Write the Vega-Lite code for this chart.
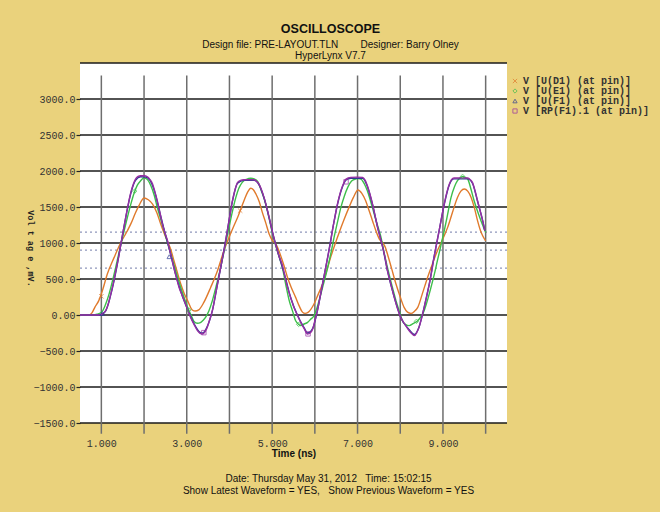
{
  "$schema": "https://vega.github.io/schema/vega-lite/v6.json",
  "width": 427,
  "height": 360,
  "autosize": {"type": "none"},
  "padding": {"left": 80, "top": 63, "right": 153, "bottom": 89},
  "background": "#EAD27C",
  "title": {
    "text": "OSCILLOSCOPE",
    "subtitle": ["Design file: PRE-LAYOUT.TLN\u00a0\u00a0\u00a0\u00a0\u00a0\u00a0\u00a0\u00a0Designer: Barry Olney", "HyperLynx V7.7"],
    "anchor": "middle",
    "frame": "group",
    "dx": 37,
    "offset": 1,
    "font": "Liberation Sans",
    "fontSize": 12.5,
    "fontWeight": "bold",
    "color": "#111111",
    "subtitleFont": "Liberation Sans",
    "subtitleFontSize": 10,
    "subtitleColor": "#111111",
    "subtitleLineHeight": 11,
    "subtitlePadding": 5
  },
  "config": {
    "view": {"fill": "white", "stroke": null},
    "axis": {"labelOverlap": false, "labelSeparation": 0, "labelBound": false},
    "legend": {
      "orient": "none",
      "legendX": 430,
      "legendY": 13,
      "padding": 0,
      "rowPadding": 0,
      "labelFont": "Liberation Mono",
      "labelFontSize": 10,
      "labelFontWeight": "bold",
      "labelColor": "#333333",
      "labelLimit": 300,
      "labelOffset": 3,
      "symbolSize": 18,
      "symbolStrokeWidth": 1
    }
  },
  "datasets": {
    "waves": [
      {"s":"D1","t":0.5,"v":0},{"s":"D1","t":0.7,"v":0},{"s":"D1","t":0.78,"v":30},{"s":"D1","t":0.85,"v":110},{"s":"D1","t":0.94,"v":200},{"s":"D1","t":1.02,"v":330},{"s":"D1","t":1.14,"v":570},{"s":"D1","t":1.3,"v":800},{"s":"D1","t":1.45,"v":1000},{"s":"D1","t":1.6,"v":1160},{"s":"D1","t":1.69,"v":1265},{"s":"D1","t":1.8,"v":1420},{"s":"D1","t":1.88,"v":1518},{"s":"D1","t":2.0,"v":1625},{"s":"D1","t":2.1,"v":1600},{"s":"D1","t":2.2,"v":1540},{"s":"D1","t":2.3,"v":1420},{"s":"D1","t":2.39,"v":1264},{"s":"D1","t":2.48,"v":1120},{"s":"D1","t":2.56,"v":1008},{"s":"D1","t":2.62,"v":920},{"s":"D1","t":2.7,"v":754},{"s":"D1","t":2.78,"v":590},{"s":"D1","t":2.86,"v":430},{"s":"D1","t":2.94,"v":300},{"s":"D1","t":3.02,"v":200},{"s":"D1","t":3.13,"v":70},{"s":"D1","t":3.2,"v":55},{"s":"D1","t":3.28,"v":70},{"s":"D1","t":3.4,"v":175},{"s":"D1","t":3.56,"v":383},{"s":"D1","t":3.72,"v":615},{"s":"D1","t":3.87,"v":893},{"s":"D1","t":3.99,"v":1078},{"s":"D1","t":4.09,"v":1220},{"s":"D1","t":4.19,"v":1355},{"s":"D1","t":4.34,"v":1587},{"s":"D1","t":4.42,"v":1700},{"s":"D1","t":4.5,"v":1760},{"s":"D1","t":4.56,"v":1740},{"s":"D1","t":4.62,"v":1680},{"s":"D1","t":4.7,"v":1570},{"s":"D1","t":4.77,"v":1425},{"s":"D1","t":4.85,"v":1280},{"s":"D1","t":4.93,"v":1125},{"s":"D1","t":5.0,"v":1040},{"s":"D1","t":5.08,"v":990},{"s":"D1","t":5.14,"v":920},{"s":"D1","t":5.2,"v":823},{"s":"D1","t":5.28,"v":680},{"s":"D1","t":5.36,"v":522},{"s":"D1","t":5.45,"v":380},{"s":"D1","t":5.55,"v":245},{"s":"D1","t":5.63,"v":130},{"s":"D1","t":5.71,"v":40},{"s":"D1","t":5.77,"v":22},{"s":"D1","t":5.84,"v":36},{"s":"D1","t":5.98,"v":153},{"s":"D1","t":6.08,"v":290},{"s":"D1","t":6.18,"v":430},{"s":"D1","t":6.28,"v":620},{"s":"D1","t":6.37,"v":800},{"s":"D1","t":6.47,"v":980},{"s":"D1","t":6.57,"v":1147},{"s":"D1","t":6.68,"v":1320},{"s":"D1","t":6.8,"v":1495},{"s":"D1","t":6.9,"v":1630},{"s":"D1","t":7.01,"v":1736},{"s":"D1","t":7.1,"v":1690},{"s":"D1","t":7.19,"v":1587},{"s":"D1","t":7.27,"v":1450},{"s":"D1","t":7.35,"v":1310},{"s":"D1","t":7.43,"v":1170},{"s":"D1","t":7.51,"v":1055},{"s":"D1","t":7.58,"v":1010},{"s":"D1","t":7.65,"v":940},{"s":"D1","t":7.7,"v":847},{"s":"D1","t":7.8,"v":640},{"s":"D1","t":7.9,"v":430},{"s":"D1","t":8.0,"v":250},{"s":"D1","t":8.09,"v":106},{"s":"D1","t":8.17,"v":40},{"s":"D1","t":8.25,"v":22},{"s":"D1","t":8.33,"v":50},{"s":"D1","t":8.41,"v":106},{"s":"D1","t":8.52,"v":300},{"s":"D1","t":8.64,"v":522},{"s":"D1","t":8.76,"v":720},{"s":"D1","t":8.87,"v":893},{"s":"D1","t":9.0,"v":1060},{"s":"D1","t":9.11,"v":1217},{"s":"D1","t":9.22,"v":1420},{"s":"D1","t":9.34,"v":1633},{"s":"D1","t":9.42,"v":1720},{"s":"D1","t":9.5,"v":1750},{"s":"D1","t":9.58,"v":1720},{"s":"D1","t":9.66,"v":1633},{"s":"D1","t":9.74,"v":1480},{"s":"D1","t":9.81,"v":1310},{"s":"D1","t":9.88,"v":1170},{"s":"D1","t":9.93,"v":1101},{"s":"D1","t":10.0,"v":1030},
      {"s":"E1","t":0.5,"v":0},{"s":"E1","t":0.8,"v":0},{"s":"E1","t":0.9,"v":10},{"s":"E1","t":1.02,"v":50},{"s":"E1","t":1.1,"v":150},{"s":"E1","t":1.18,"v":290},{"s":"E1","t":1.3,"v":570},{"s":"E1","t":1.45,"v":960},{"s":"E1","t":1.53,"v":1160},{"s":"E1","t":1.61,"v":1355},{"s":"E1","t":1.7,"v":1560},{"s":"E1","t":1.76,"v":1680},{"s":"E1","t":1.84,"v":1800},{"s":"E1","t":1.92,"v":1865},{"s":"E1","t":2.0,"v":1905},{"s":"E1","t":2.08,"v":1880},{"s":"E1","t":2.16,"v":1796},{"s":"E1","t":2.24,"v":1660},{"s":"E1","t":2.31,"v":1495},{"s":"E1","t":2.39,"v":1330},{"s":"E1","t":2.47,"v":1170},{"s":"E1","t":2.58,"v":940},{"s":"E1","t":2.66,"v":780},{"s":"E1","t":2.74,"v":615},{"s":"E1","t":2.86,"v":383},{"s":"E1","t":2.94,"v":240},{"s":"E1","t":3.02,"v":106},{"s":"E1","t":3.1,"v":0},{"s":"E1","t":3.17,"v":-89},{"s":"E1","t":3.25,"v":-115},{"s":"E1","t":3.32,"v":-105},{"s":"E1","t":3.38,"v":-75},{"s":"E1","t":3.44,"v":-33},{"s":"E1","t":3.52,"v":60},{"s":"E1","t":3.6,"v":200},{"s":"E1","t":3.68,"v":380},{"s":"E1","t":3.76,"v":570},{"s":"E1","t":3.87,"v":870},{"s":"E1","t":3.99,"v":1217},{"s":"E1","t":4.07,"v":1440},{"s":"E1","t":4.15,"v":1633},{"s":"E1","t":4.22,"v":1760},{"s":"E1","t":4.3,"v":1842},{"s":"E1","t":4.4,"v":1885},{"s":"E1","t":4.5,"v":1900},{"s":"E1","t":4.58,"v":1890},{"s":"E1","t":4.66,"v":1856},{"s":"E1","t":4.75,"v":1720},{"s":"E1","t":4.85,"v":1542},{"s":"E1","t":4.93,"v":1340},{"s":"E1","t":5.01,"v":1125},{"s":"E1","t":5.12,"v":890},{"s":"E1","t":5.24,"v":660},{"s":"E1","t":5.32,"v":420},{"s":"E1","t":5.4,"v":200},{"s":"E1","t":5.48,"v":50},{"s":"E1","t":5.55,"v":-80},{"s":"E1","t":5.62,"v":-130},{"s":"E1","t":5.67,"v":-148},{"s":"E1","t":5.75,"v":-125},{"s":"E1","t":5.83,"v":-103},{"s":"E1","t":5.9,"v":-60},{"s":"E1","t":5.98,"v":-10},{"s":"E1","t":6.06,"v":120},{"s":"E1","t":6.14,"v":290},{"s":"E1","t":6.22,"v":470},{"s":"E1","t":6.3,"v":660},{"s":"E1","t":6.38,"v":870},{"s":"E1","t":6.45,"v":1078},{"s":"E1","t":6.53,"v":1290},{"s":"E1","t":6.61,"v":1495},{"s":"E1","t":6.69,"v":1650},{"s":"E1","t":6.77,"v":1772},{"s":"E1","t":6.86,"v":1860},{"s":"E1","t":6.96,"v":1890},{"s":"E1","t":7.02,"v":1895},{"s":"E1","t":7.08,"v":1888},{"s":"E1","t":7.16,"v":1820},{"s":"E1","t":7.23,"v":1726},{"s":"E1","t":7.31,"v":1570},{"s":"E1","t":7.39,"v":1403},{"s":"E1","t":7.47,"v":1240},{"s":"E1","t":7.55,"v":1078},{"s":"E1","t":7.62,"v":870},{"s":"E1","t":7.7,"v":660},{"s":"E1","t":7.8,"v":420},{"s":"E1","t":7.9,"v":200},{"s":"E1","t":7.98,"v":50},{"s":"E1","t":8.05,"v":-80},{"s":"E1","t":8.12,"v":-130},{"s":"E1","t":8.21,"v":-148},{"s":"E1","t":8.3,"v":-120},{"s":"E1","t":8.41,"v":-80},{"s":"E1","t":8.5,"v":-10},{"s":"E1","t":8.56,"v":60},{"s":"E1","t":8.64,"v":210},{"s":"E1","t":8.72,"v":383},{"s":"E1","t":8.8,"v":570},{"s":"E1","t":8.87,"v":754},{"s":"E1","t":8.95,"v":960},{"s":"E1","t":9.03,"v":1170},{"s":"E1","t":9.11,"v":1400},{"s":"E1","t":9.19,"v":1633},{"s":"E1","t":9.27,"v":1780},{"s":"E1","t":9.34,"v":1865},{"s":"E1","t":9.4,"v":1905},{"s":"E1","t":9.46,"v":1925},{"s":"E1","t":9.52,"v":1910},{"s":"E1","t":9.58,"v":1888},{"s":"E1","t":9.65,"v":1760},{"s":"E1","t":9.73,"v":1587},{"s":"E1","t":9.81,"v":1440},{"s":"E1","t":9.89,"v":1310},{"s":"E1","t":9.95,"v":1220},{"s":"E1","t":10.0,"v":1148},
      {"s":"F1","t":0.5,"v":0},{"s":"F1","t":0.97,"v":0},{"s":"F1","t":1.1,"v":55},{"s":"F1","t":1.22,"v":280},{"s":"F1","t":1.34,"v":600},{"s":"F1","t":1.45,"v":960},{"s":"F1","t":1.57,"v":1350},{"s":"F1","t":1.69,"v":1690},{"s":"F1","t":1.8,"v":1870},{"s":"F1","t":1.92,"v":1920},{"s":"F1","t":2.04,"v":1915},{"s":"F1","t":2.14,"v":1870},{"s":"F1","t":2.25,"v":1710},{"s":"F1","t":2.37,"v":1420},{"s":"F1","t":2.49,"v":1140},{"s":"F1","t":2.6,"v":900},{"s":"F1","t":2.74,"v":560},{"s":"F1","t":2.88,"v":290},{"s":"F1","t":3.01,"v":90},{"s":"F1","t":3.17,"v":-120},{"s":"F1","t":3.31,"v":-240},{"s":"F1","t":3.37,"v":-250},{"s":"F1","t":3.48,"v":-160},{"s":"F1","t":3.6,"v":60},{"s":"F1","t":3.72,"v":430},{"s":"F1","t":3.84,"v":800},{"s":"F1","t":3.95,"v":1170},{"s":"F1","t":4.07,"v":1580},{"s":"F1","t":4.19,"v":1830},{"s":"F1","t":4.34,"v":1870},{"s":"F1","t":4.58,"v":1870},{"s":"F1","t":4.69,"v":1810},{"s":"F1","t":4.81,"v":1625},{"s":"F1","t":4.93,"v":1350},{"s":"F1","t":5.01,"v":1147},{"s":"F1","t":5.16,"v":820},{"s":"F1","t":5.3,"v":540},{"s":"F1","t":5.44,"v":230},{"s":"F1","t":5.59,"v":0},{"s":"F1","t":5.75,"v":-180},{"s":"F1","t":5.83,"v":-250},{"s":"F1","t":5.95,"v":-185},{"s":"F1","t":6.06,"v":60},{"s":"F1","t":6.18,"v":430},{"s":"F1","t":6.3,"v":800},{"s":"F1","t":6.41,"v":1170},{"s":"F1","t":6.53,"v":1535},{"s":"F1","t":6.65,"v":1785},{"s":"F1","t":6.73,"v":1875},{"s":"F1","t":6.84,"v":1900},{"s":"F1","t":7.12,"v":1900},{"s":"F1","t":7.23,"v":1785},{"s":"F1","t":7.35,"v":1535},{"s":"F1","t":7.47,"v":1215},{"s":"F1","t":7.59,"v":940},{"s":"F1","t":7.7,"v":615},{"s":"F1","t":7.86,"v":245},{"s":"F1","t":8.01,"v":-30},{"s":"F1","t":8.21,"v":-205},{"s":"F1","t":8.33,"v":-270},{"s":"F1","t":8.44,"v":-165},{"s":"F1","t":8.56,"v":106},{"s":"F1","t":8.68,"v":430},{"s":"F1","t":8.79,"v":800},{"s":"F1","t":8.91,"v":1170},{"s":"F1","t":9.03,"v":1535},{"s":"F1","t":9.15,"v":1810},{"s":"F1","t":9.26,"v":1890},{"s":"F1","t":9.58,"v":1890},{"s":"F1","t":9.69,"v":1830},{"s":"F1","t":9.81,"v":1580},{"s":"F1","t":9.93,"v":1310},{"s":"F1","t":9.98,"v":1170},
      {"s":"RP","t":0.5,"v":0},{"s":"RP","t":0.95,"v":0},{"s":"RP","t":1.02,"v":15},{"s":"RP","t":1.1,"v":60},{"s":"RP","t":1.16,"v":150},{"s":"RP","t":1.22,"v":290},{"s":"RP","t":1.28,"v":440},{"s":"RP","t":1.34,"v":615},{"s":"RP","t":1.4,"v":790},{"s":"RP","t":1.45,"v":960},{"s":"RP","t":1.51,"v":1160},{"s":"RP","t":1.57,"v":1355},{"s":"RP","t":1.63,"v":1540},{"s":"RP","t":1.69,"v":1703},{"s":"RP","t":1.75,"v":1820},{"s":"RP","t":1.8,"v":1888},{"s":"RP","t":1.86,"v":1925},{"s":"RP","t":1.92,"v":1935},{"s":"RP","t":2.0,"v":1935},{"s":"RP","t":2.08,"v":1920},{"s":"RP","t":2.14,"v":1880},{"s":"RP","t":2.2,"v":1820},{"s":"RP","t":2.25,"v":1720},{"s":"RP","t":2.31,"v":1587},{"s":"RP","t":2.37,"v":1430},{"s":"RP","t":2.43,"v":1264},{"s":"RP","t":2.49,"v":1140},{"s":"RP","t":2.55,"v":1032},{"s":"RP","t":2.6,"v":900},{"s":"RP","t":2.66,"v":754},{"s":"RP","t":2.74,"v":560},{"s":"RP","t":2.82,"v":383},{"s":"RP","t":2.88,"v":290},{"s":"RP","t":2.94,"v":200},{"s":"RP","t":3.01,"v":90},{"s":"RP","t":3.09,"v":-33},{"s":"RP","t":3.17,"v":-130},{"s":"RP","t":3.25,"v":-218},{"s":"RP","t":3.31,"v":-255},{"s":"RP","t":3.37,"v":-264},{"s":"RP","t":3.43,"v":-230},{"s":"RP","t":3.48,"v":-172},{"s":"RP","t":3.54,"v":-60},{"s":"RP","t":3.6,"v":60},{"s":"RP","t":3.66,"v":240},{"s":"RP","t":3.72,"v":430},{"s":"RP","t":3.78,"v":615},{"s":"RP","t":3.84,"v":800},{"s":"RP","t":3.9,"v":985},{"s":"RP","t":3.95,"v":1170},{"s":"RP","t":4.01,"v":1380},{"s":"RP","t":4.07,"v":1587},{"s":"RP","t":4.13,"v":1740},{"s":"RP","t":4.19,"v":1842},{"s":"RP","t":4.26,"v":1870},{"s":"RP","t":4.34,"v":1878},{"s":"RP","t":4.45,"v":1880},{"s":"RP","t":4.58,"v":1878},{"s":"RP","t":4.64,"v":1855},{"s":"RP","t":4.69,"v":1820},{"s":"RP","t":4.75,"v":1740},{"s":"RP","t":4.81,"v":1633},{"s":"RP","t":4.87,"v":1500},{"s":"RP","t":4.93,"v":1355},{"s":"RP","t":5.01,"v":1147},{"s":"RP","t":5.08,"v":980},{"s":"RP","t":5.16,"v":820},{"s":"RP","t":5.24,"v":690},{"s":"RP","t":5.3,"v":540},{"s":"RP","t":5.36,"v":383},{"s":"RP","t":5.44,"v":230},{"s":"RP","t":5.51,"v":106},{"s":"RP","t":5.59,"v":0},{"s":"RP","t":5.67,"v":-103},{"s":"RP","t":5.75,"v":-190},{"s":"RP","t":5.83,"v":-264},{"s":"RP","t":5.89,"v":-250},{"s":"RP","t":5.95,"v":-194},{"s":"RP","t":6.0,"v":-80},{"s":"RP","t":6.06,"v":60},{"s":"RP","t":6.12,"v":240},{"s":"RP","t":6.18,"v":430},{"s":"RP","t":6.24,"v":615},{"s":"RP","t":6.3,"v":800},{"s":"RP","t":6.36,"v":985},{"s":"RP","t":6.41,"v":1170},{"s":"RP","t":6.47,"v":1360},{"s":"RP","t":6.53,"v":1542},{"s":"RP","t":6.59,"v":1690},{"s":"RP","t":6.65,"v":1796},{"s":"RP","t":6.73,"v":1888},{"s":"RP","t":6.84,"v":1911},{"s":"RP","t":6.98,"v":1915},{"s":"RP","t":7.12,"v":1911},{"s":"RP","t":7.18,"v":1870},{"s":"RP","t":7.23,"v":1796},{"s":"RP","t":7.29,"v":1680},{"s":"RP","t":7.35,"v":1542},{"s":"RP","t":7.41,"v":1380},{"s":"RP","t":7.47,"v":1217},{"s":"RP","t":7.53,"v":1080},{"s":"RP","t":7.59,"v":940},{"s":"RP","t":7.65,"v":780},{"s":"RP","t":7.7,"v":615},{"s":"RP","t":7.78,"v":430},{"s":"RP","t":7.86,"v":245},{"s":"RP","t":7.93,"v":100},{"s":"RP","t":8.01,"v":-33},{"s":"RP","t":8.11,"v":-130},{"s":"RP","t":8.21,"v":-218},{"s":"RP","t":8.28,"v":-265},{"s":"RP","t":8.33,"v":-287},{"s":"RP","t":8.39,"v":-240},{"s":"RP","t":8.44,"v":-172},{"s":"RP","t":8.5,"v":-40},{"s":"RP","t":8.56,"v":106},{"s":"RP","t":8.62,"v":270},{"s":"RP","t":8.68,"v":430},{"s":"RP","t":8.74,"v":615},{"s":"RP","t":8.79,"v":800},{"s":"RP","t":8.85,"v":985},{"s":"RP","t":8.91,"v":1170},{"s":"RP","t":8.97,"v":1360},{"s":"RP","t":9.03,"v":1542},{"s":"RP","t":9.09,"v":1700},{"s":"RP","t":9.15,"v":1820},{"s":"RP","t":9.2,"v":1880},{"s":"RP","t":9.26,"v":1903},{"s":"RP","t":9.42,"v":1905},{"s":"RP","t":9.58,"v":1903},{"s":"RP","t":9.64,"v":1880},{"s":"RP","t":9.69,"v":1842},{"s":"RP","t":9.75,"v":1730},{"s":"RP","t":9.81,"v":1587},{"s":"RP","t":9.87,"v":1450},{"s":"RP","t":9.93,"v":1310},{"s":"RP","t":9.98,"v":1170}
    ],
    "markers": [
      {"s":"D1","t":1.0,"v":260},{"s":"D1","t":4.25,"v":1450},
      {"s":"E1","t":1.78,"v":1720},{"s":"E1","t":3.05,"v":70},{"s":"E1","t":5.62,"v":-130},{"s":"E1","t":8.38,"v":-88},{"s":"E1","t":9.46,"v":1925},
      {"s":"F1","t":1.02,"v":20},{"s":"F1","t":2.59,"v":810},
      {"s":"RP","t":3.4,"v":-245},{"s":"RP","t":5.84,"v":-262},{"s":"RP","t":6.73,"v":1850}
    ],
    "thresholds": [{"level": 1150}, {"level": 900}, {"level": 650}],
    "levels": [{"y":-1500},{"y":-1000},{"y":-500},{"y":0},{"y":500},{"y":1000},{"y":1500},{"y":2000},{"y":2500},{"y":3000},{"y":3500}],
    "divisions": [{"g":1},{"g":2},{"g":3},{"g":4},{"g":5},{"g":6},{"g":7},{"g":8},{"g":9},{"g":10}],
    "notes": [{"note": "Date: Thursday May 31, 2012\u00a0\u00a0\u00a0Time: 15:02:15\nShow Latest Waveform = YES,\u00a0\u00a0\u00a0Show Previous Waveform = YES"}]
  },
  "layer": [
    {
      "data": {"name": "levels"},
      "mark": {"type": "rule", "color": "#1a1a1a", "strokeWidth": 1.4},
      "encoding": {
        "y": {
          "field": "y", "type": "quantitative",
          "scale": {"domain": [-1500, 3500], "nice": false, "zero": false},
          "axis": {
            "title": "Vol t ag e ,mV.",
            "values": [-1500, -1000, -500, 0, 500, 1000, 1500, 2000, 2500, 3000],
            "tickCount": 20,
            "labelOverlap": false,
            "labelSeparation": 0,
            "labelExpr": "datum.value == 0 ? '0.00' : format(datum.value, '.1f')",
            "labelFont": "Liberation Mono",
            "labelFontSize": 10,
            "labelColor": "#333333",
            "labelPadding": 1,
            "tickSize": 4,
            "tickWidth": 1.2,
            "tickColor": "#222222",
            "domain": false,
            "grid": false,
            "titleAngle": 90,
            "titleFont": "Liberation Mono",
            "titleFontSize": 8.5,
            "titleFontWeight": "bold",
            "titleColor": "#222222",
            "titleX": -50,
            "titleY": 185,
            "titleAlign": "center",
            "titleBaseline": "middle"
          }
        }
      }
    },
    {
      "data": {"name": "thresholds"},
      "mark": {"type": "rule", "color": "#8F96BC", "strokeWidth": 1.2, "strokeDash": [2, 3]},
      "encoding": {
        "y": {"field": "level", "type": "quantitative", "scale": {"domain": [-1500, 3500], "nice": false, "zero": false}}
      }
    },
    {
      "data": {"name": "divisions"},
      "mark": {"type": "rule", "color": "#6e6e6e", "strokeWidth": 1.5},
      "encoding": {
        "x": {
          "field": "g", "type": "quantitative",
          "scale": {"domain": [0.5, 10.5], "nice": false, "zero": false},
          "axis": {
            "title": "Time  (ns)",
            "values": [1, 3, 5, 7, 9],
            "tickCount": 20,
            "format": ".3f",
            "labelFont": "Liberation Mono",
            "labelFontSize": 10,
            "labelColor": "#333333",
            "labelPadding": 15,
            "ticks": false,
            "domain": false,
            "grid": false,
            "titleFont": "Liberation Sans",
            "titleFontSize": 10,
            "titleFontWeight": "bold",
            "titleColor": "#111111",
            "titlePadding": 0
          }
        },
        "y": {"datum": 3325, "type": "quantitative", "scale": {"domain": [-1500, 3500], "nice": false, "zero": false}},
        "y2": {"datum": -1650}
      }
    },
    {
      "data": {"name": "waves"},
      "mark": {"type": "line", "interpolate": "monotone", "strokeWidth": 1.4},
      "encoding": {
        "x": {"field": "t", "type": "quantitative", "scale": {"domain": [0.5, 10.5], "nice": false, "zero": false}},
        "y": {"field": "v", "type": "quantitative", "scale": {"domain": [-1500, 3500], "nice": false, "zero": false}},
        "color": {
          "field": "s", "type": "nominal",
          "scale": {"domain": ["D1", "E1", "F1", "RP"], "range": ["#E07A2C", "#3DBE4A", "#2E3D92", "#962FA3"]},
          "legend": {
            "title": null,
            "labelExpr": "datum.label == 'D1' ? 'V [U(D1) (at pin)]' : (datum.label == 'E1' ? 'V [U(E1) (at pin)]' : (datum.label == 'F1' ? 'V [U(F1) (at pin)]' : 'V [RP(F1).1 (at pin)]'))"
          }
        }
      }
    },
    {
      "data": {"name": "markers"},
      "mark": {"type": "point", "filled": false, "size": 20, "strokeWidth": 1},
      "encoding": {
        "x": {"field": "t", "type": "quantitative", "scale": {"domain": [0.5, 10.5], "nice": false, "zero": false}},
        "y": {"field": "v", "type": "quantitative", "scale": {"domain": [-1500, 3500], "nice": false, "zero": false}},
        "color": {"field": "s", "type": "nominal"},
        "shape": {
          "field": "s", "type": "nominal",
          "scale": {"domain": ["D1", "E1", "F1", "RP"], "range": ["M-1,-1L1,1M-1,1L1,-1", "diamond", "triangle-up", "square"]},
          "legend": {
            "title": null,
            "labelExpr": "datum.label == 'D1' ? 'V [U(D1) (at pin)]' : (datum.label == 'E1' ? 'V [U(E1) (at pin)]' : (datum.label == 'F1' ? 'V [U(F1) (at pin)]' : 'V [RP(F1).1 (at pin)]'))"
          }
        }
      }
    },
    {
      "data": {"name": "notes"},
      "mark": {"type": "text", "lineBreak": "\n", "lineHeight": 12, "font": "Liberation Sans", "fontSize": 10, "color": "#111111", "align": "center", "baseline": "middle"},
      "encoding": {
        "x": {"datum": 6.32, "type": "quantitative", "scale": {"domain": [0.5, 10.5], "nice": false, "zero": false}},
        "y": {"datum": -2280, "type": "quantitative", "scale": {"domain": [-1500, 3500], "nice": false, "zero": false}},
        "text": {"field": "note"}
      }
    }
  ]
}
